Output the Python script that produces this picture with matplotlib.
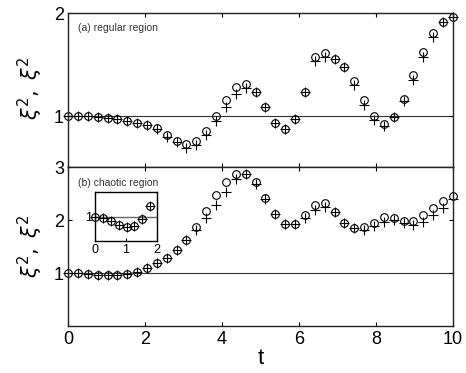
import numpy as np
import matplotlib
matplotlib.use("Agg")
import matplotlib.pyplot as plt

plt.rcParams['font.family'] = ['Liberation Sans', 'DejaVu Sans']
plt.rcParams['mathtext.fontset'] = 'dejavusans'

# time grid, 40 samples from 0 to 10
t = np.linspace(0, 10, 40)

# (a) regular region
reg_circ = [1.00, 1.00, 1.00, 0.99, 0.98, 0.97, 0.95, 0.93, 0.91, 0.88,
            0.82, 0.76, 0.73, 0.755, 0.86, 1.00, 1.16, 1.28, 1.31, 1.235,
            1.085, 0.93, 0.875, 0.97, 1.235, 1.575, 1.615, 1.56, 1.48, 1.34,
            1.16, 1.00, 0.92, 0.99, 1.17, 1.40, 1.62, 1.81, 1.915, 1.97]
reg_plus = [1.00, 1.00, 1.00, 0.99, 0.98, 0.97, 0.95, 0.93, 0.91, 0.87,
            0.80, 0.75, 0.69, 0.72, 0.82, 0.95, 1.09, 1.22, 1.27, 1.235,
            1.085, 0.93, 0.875, 0.97, 1.235, 1.54, 1.575, 1.56, 1.48, 1.30,
            1.11, 0.96, 0.90, 0.99, 1.15, 1.35, 1.58, 1.77, 1.915, 1.97]

# (b) chaotic region
cha_circ = [1.00, 1.00, 0.99, 0.97, 0.97, 0.97, 0.99, 1.03, 1.11, 1.20,
            1.30, 1.44, 1.63, 1.88, 2.18, 2.48, 2.73, 2.87, 2.88, 2.73,
            2.43, 2.13, 1.94, 1.94, 2.11, 2.29, 2.32, 2.15, 1.96, 1.85,
            1.87, 1.96, 2.06, 2.05, 1.99, 1.99, 2.11, 2.24, 2.36, 2.46]
cha_plus = [1.00, 1.00, 0.99, 0.97, 0.97, 0.97, 0.99, 1.03, 1.11, 1.20,
            1.30, 1.44, 1.63, 1.82, 2.04, 2.29, 2.54, 2.79, 2.88, 2.68,
            2.40, 2.13, 1.94, 1.94, 2.05, 2.20, 2.26, 2.15, 1.96, 1.85,
            1.82, 1.90, 1.98, 2.00, 1.95, 1.92, 1.98, 2.10, 2.23, 2.40]

# inset: first 8 samples of the chaotic run, magnified
ins_vals = [1.000, 0.998, 0.991, 0.983, 0.978, 0.980, 0.995, 1.022]

ms = 5.5
mew = 0.8
fs = 13

fig = plt.figure(figsize=(4.66, 3.73), dpi=100)
ax1 = fig.add_axes([0.146, 0.551, 0.826, 0.413])
ax2 = fig.add_axes([0.146, 0.125, 0.826, 0.426])

for ax in (ax1, ax2):
    ax.tick_params(direction='in', top=True, right=True, length=3,
                   labelsize=fs, width=0.8, pad=3)
    for s in ax.spines.values():
        s.set_linewidth(1.0)
        s.set_color('#222222')
    ax.set_xlim(0, 10)
    ax.set_xticks([0, 2, 4, 6, 8, 10])
    ax.axhline(1, color='#333333', lw=0.8, zorder=1)

ax1.plot(t, reg_circ, 'o', mfc='none', mec='k', ms=ms, mew=mew, clip_on=False)
ax1.plot(t, reg_plus, '+', color='k', ms=ms + 1.5, mew=mew, clip_on=False)
ax1.set_ylim(0.5, 2)
ax1.set_yticks([1, 2])
ax1.set_xticklabels([])
ax1.text(0.26, 1.86, '(a) regular region', fontsize=7.5, color='#333333',
         va='center')

ax2.plot(t, cha_circ, 'o', mfc='none', mec='k', ms=ms, mew=mew, clip_on=False)
ax2.plot(t, cha_plus, '+', color='k', ms=ms + 1.5, mew=mew, clip_on=False)
ax2.set_ylim(0, 3)
ax2.set_yticks([1, 2, 3])
ax2.set_xlabel('t', fontsize=fs + 3, labelpad=0)
ax2.text(0.26, 2.70, '(b) chaotic region', fontsize=7.5, color='#333333',
         va='center')

fig.text(0.066, 0.765, r'$\xi^2,\ \xi^2$', rotation=90, fontsize=fs + 2,
         ha='center', va='center')
fig.text(0.066, 0.34, r'$\xi^2,\ \xi^2$', rotation=90, fontsize=fs + 2,
         ha='center', va='center')

# inset
axi = fig.add_axes([0.204, 0.354, 0.132, 0.131])
axi.plot(t[:8], ins_vals, 'o', mfc='none', mec='k', ms=ms, mew=mew, clip_on=False)
axi.plot(t[:8], ins_vals, '+', color='k', ms=ms + 1.5, mew=mew, clip_on=False)
axi.axhline(1, color='#666666', lw=1.0, zorder=1)
axi.set_xlim(0, 2)
axi.set_ylim(0.95, 1.05)
axi.set_xticks([0, 1, 2])
axi.set_yticks([1])
axi.tick_params(direction='in', length=2, labelsize=9, pad=2)
for s in axi.spines.values():
    s.set_linewidth(1.0)

fig.savefig('out.png', dpi=100)
